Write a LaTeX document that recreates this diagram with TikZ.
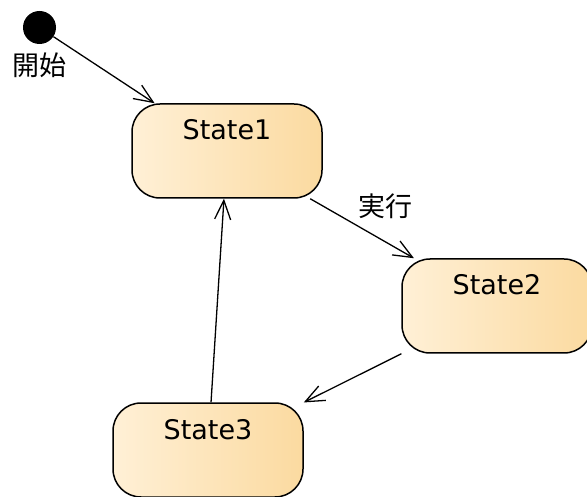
\documentclass[tikz,border=0pt]{standalone}
\usepackage{fontspec}
\setmainfont{DejaVu Sans}
\newfontfamily\jp{Noto Sans CJK JP}
\usetikzlibrary{arrows.meta,positioning}

\begin{document}
\begin{tikzpicture}[x=1pt,y=-1pt]
\tikzset{state/.style={draw, line width=1.5pt, rounded corners=28pt, inner sep=0pt,
  minimum width=190pt, text height=36pt, text depth=58pt,
  left color={rgb,255:red,255;green,240;blue,214}, right color={rgb,255:red,251;green,218;blue,160},
  font=\fontsize{27}{30}\selectfont}}
\tikzset{initial/.style={circle, fill=black, minimum size=33pt, inner sep=0pt}}
\tikzset{jplabel/.style={font=\jp\fontsize{27}{30}\selectfont, inner sep=2pt}}
\tikzset{trans/.style={line width=1.3pt, -{Straight Barb[length=19pt,width=16pt]}}}

\useasboundingbox (0,0) rectangle (587,497);

\node[initial] (start) at (39.5,27.5) {};
\node[jplabel] (startlbl) at (39.5,65) {開始};

\node[state] (s1) at (227,151) {State1};
\node[state] (s2) at (497,306) {State2};
\node[state] (s3) at (208,450) {State3};

\draw[trans] (start) -- (s1);
\draw[trans] (s1) -- node[jplabel, pos=0.45, anchor=south west, xshift=-1pt, yshift=4pt] (run) {実行} (s2);
\draw[trans] (s2) -- (s3);
\draw[trans] (s3) -- (s1);

\end{tikzpicture}
\end{document}
